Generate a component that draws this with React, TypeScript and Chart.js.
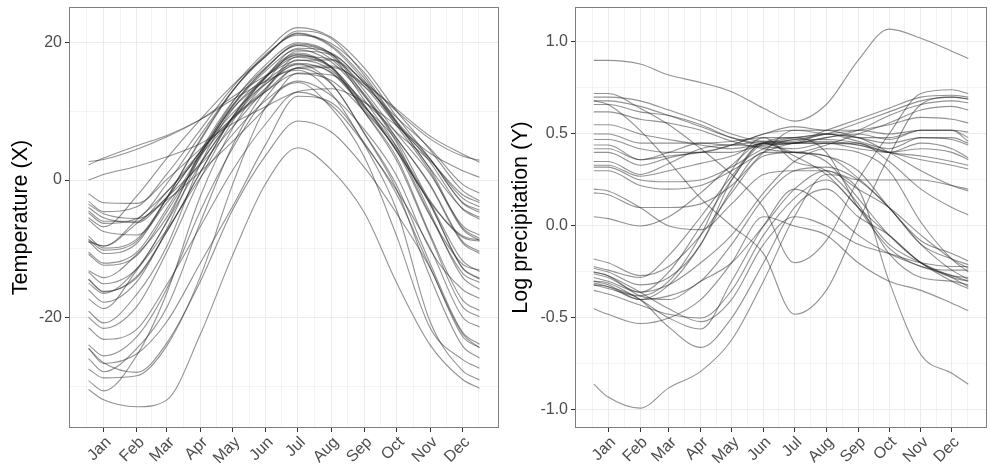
import React, { useEffect, useRef } from "react";
import { Chart, registerables } from "chart.js";

Chart.register(...registerables);

// ---- shared axis data ----
const days = [1, 15, 46, 74, 105, 135, 166, 196, 227, 258, 288, 319, 349, 365];
const monthLabels = ["Jan", "Feb", "Mar", "Apr", "May", "Jun", "Jul", "Aug", "Sep", "Oct", "Nov", "Dec"];
const monthTickDays = [15, 46, 74, 105, 135, 166, 196, 227, 258, 288, 319, 349];
const monthMinorDays = [-0.5, 30.5, 60, 89.5, 120, 150.5, 181, 211.5, 242.5, 273, 303.5, 334, 364];
const tempMajorTicks = [-20, 0, 20];
const tempMinorTicks = [-30, -10, 10];
const precMajorTicks = [-1, -0.5, 0, 0.5, 1];
const precMinorTicks = [-0.75, -0.25, 0.25, 0.75];

// ---- temperature (deg C) at the days above ----
const tempStJohns = [-3.5, -4.9, -5.6, -2.9, 1.2, 5.6, 10.5, 15.6, 15.3, 11.4, 6.9, 2.8, -2.1, -3.3];
const tempHalifax = [-4.5, -6.0, -6.0, -1.7, 3.6, 9.0, 14.3, 18.8, 18.3, 14.1, 8.5, 3.1, -3.2, -4.4];
const tempSydney = [-4.0, -5.5, -6.2, -2.5, 2.2, 7.7, 13.3, 18.0, 17.6, 13.6, 8.0, 3.0, -2.6, -3.9];
const tempYarmouth = [-2.0, -3.3, -3.4, 0.1, 4.5, 8.9, 12.9, 16.4, 16.6, 13.6, 9.1, 4.6, -0.6, -1.9];
const tempCharlottetown = [-5.8, -7.5, -8.0, -3.3, 2.5, 9.1, 15.0, 19.2, 18.5, 14.0, 8.3, 2.6, -4.2, -5.7];
const tempFredericton = [-8.2, -9.9, -8.6, -2.7, 4.2, 10.9, 16.2, 19.8, 18.4, 13.0, 6.8, 0.9, -6.6, -8.0];
const tempScheffervll = [-21.5, -23.2, -21.7, -15.2, -6.8, 1.4, 8.2, 12.8, 10.9, 5.2, -1.5, -9.9, -19.9, -21.4];
const tempArvida = [-14.5, -16.3, -14.0, -7.5, 1.1, 9.2, 15.2, 18.5, 16.5, 10.9, 4.2, -3.5, -12.8, -14.4];
const tempBagottville = [-14.4, -16.2, -14.2, -7.5, 1.1, 9.1, 15.0, 18.3, 16.4, 10.8, 4.2, -3.5, -12.7, -14.3];
const tempQuebec = [-10.8, -12.4, -11.0, -4.6, 3.3, 10.8, 16.3, 19.6, 17.6, 12.5, 6.1, -0.8, -9.1, -10.7];
const tempSherbrooke = [-10.5, -12.1, -10.5, -4.1, 3.7, 10.7, 15.9, 19.0, 17.2, 12.2, 6.0, -0.6, -8.9, -10.4];
const tempMontreal = [-8.6, -10.2, -8.9, -2.5, 5.7, 12.9, 18.0, 21.4, 19.6, 14.8, 8.3, 1.6, -6.9, -8.5];
const tempOttawa = [-8.9, -10.7, -9.2, -2.6, 5.9, 13.0, 18.1, 21.3, 19.4, 14.4, 7.9, 1.2, -7.1, -8.8];
const tempToronto = [-3.1, -4.6, -3.9, 0.9, 7.3, 13.5, 18.7, 22.2, 20.8, 16.3, 10.0, 4.4, -1.5, -3.0];
const tempLondon = [-4.8, -6.3, -5.6, -0.5, 6.5, 13.0, 18.3, 21.1, 19.9, 15.6, 9.2, 3.1, -3.3, -4.7];
const tempThunderBay = [-13.4, -15.1, -12.9, -6.1, 2.3, 8.8, 13.4, 17.5, 16.0, 10.7, 4.8, -3.3, -11.7, -13.3];
const tempWinnipeg = [-16.0, -17.8, -14.8, -7.1, 3.5, 11.3, 16.8, 20.0, 18.4, 12.3, 5.4, -4.7, -14.1, -15.9];
const tempThePas = [-20.0, -21.6, -18.4, -10.4, 0.2, 8.5, 14.9, 18.2, 16.5, 9.9, 2.8, -8.2, -18.4, -19.9];
const tempChurchill = [-24.5, -26.7, -25.3, -20.6, -12.1, -3.9, 5.2, 12.2, 11.3, 5.4, -2.1, -12.7, -22.3, -24.4];
const tempRegina = [-15.0, -16.5, -12.9, -6.0, 4.1, 11.4, 16.4, 19.6, 18.1, 11.6, 4.8, -5.1, -13.5, -14.9];
const tempPrAlbert = [-19.1, -20.8, -16.6, -9.6, 2.3, 10.3, 15.0, 17.9, 16.3, 9.9, 3.3, -7.9, -17.4, -19.0];
const tempUraniumCity = [-24.0, -25.6, -22.8, -15.8, -4.5, 4.6, 12.0, 16.3, 14.0, 6.8, -0.8, -12.1, -22.1, -23.9];
const tempEdmonton = [-13.2, -14.2, -10.8, -5.4, 3.7, 10.4, 14.5, 17.0, 15.6, 10.3, 4.2, -5.2, -12.2, -13.1];
const tempCalgary = [-9.0, -9.6, -6.3, -2.5, 4.1, 9.7, 14.0, 16.8, 15.7, 10.6, 5.7, -3.0, -8.3, -8.9];
const tempKamloops = [-5.5, -6.8, -2.3, 3.2, 8.8, 13.8, 18.0, 21.7, 20.6, 15.2, 8.5, 1.7, -4.1, -5.4];
const tempVancouver = [2.7, 3.0, 4.5, 6.3, 8.8, 12.1, 15.2, 17.4, 17.5, 14.3, 10.0, 6.0, 3.5, 2.9];
const tempVictoria = [2.2, 3.2, 5.0, 6.5, 8.8, 11.7, 14.4, 16.3, 16.4, 14.0, 10.3, 6.4, 3.8, 2.6];
const tempPrGeorge = [-8.8, -9.6, -5.8, -1.7, 4.1, 9.1, 12.9, 15.5, 14.5, 10.0, 4.5, -3.2, -8.1, -8.7];
const tempPrRupert = [0.0, 0.8, 2.0, 3.4, 5.3, 8.2, 10.7, 12.9, 13.3, 11.3, 7.9, 3.9, 1.4, 0.4];
const tempWhitehorse = [-17.3, -18.7, -13.1, -7.2, 0.3, 6.6, 11.6, 14.4, 12.3, 7.3, 0.6, -10.1, -15.9, -17.2];
const tempDawson = [-29.2, -30.7, -25.5, -16.4, -2.4, 7.5, 14.0, 16.0, 12.6, 5.1, -4.4, -20.6, -27.7, -29.1];
const tempYellowknife = [-26.0, -27.9, -24.5, -18.5, -6.2, 5.0, 13.1, 16.9, 14.1, 6.7, -1.4, -14.1, -24.1, -25.9];
const tempIqaluit = [-24.5, -26.6, -28.0, -23.7, -14.8, -4.4, 3.6, 8.6, 7.0, 1.8, -4.9, -12.8, -22.7, -24.4];
const tempInuvik = [-27.5, -28.8, -28.5, -24.1, -14.1, -0.7, 10.6, 14.2, 10.5, 3.3, -8.2, -21.5, -26.1, -27.4];
const tempResolute = [-30.5, -32.0, -33.0, -32.0, -22.5, -11.0, -0.5, 4.7, 1.5, -4.8, -15.0, -24.0, -29.0, -30.3];

// ---- log10 precipitation at the days above ----
const precStJohns = [0.70, 0.70, 0.68, 0.63, 0.57, 0.50, 0.46, 0.46, 0.52, 0.58, 0.64, 0.70, 0.71, 0.70];
const precHalifax = [0.66, 0.66, 0.62, 0.60, 0.55, 0.48, 0.44, 0.45, 0.48, 0.52, 0.60, 0.66, 0.68, 0.67];
const precSydney = [0.68, 0.68, 0.65, 0.60, 0.54, 0.48, 0.45, 0.47, 0.50, 0.56, 0.62, 0.68, 0.70, 0.69];
const precYarmouth = [0.62, 0.62, 0.58, 0.56, 0.52, 0.46, 0.42, 0.40, 0.44, 0.50, 0.56, 0.63, 0.65, 0.63];
const precCharlottetown = [0.55, 0.55, 0.50, 0.47, 0.44, 0.42, 0.45, 0.48, 0.50, 0.52, 0.55, 0.59, 0.58, 0.56];
const precFredericton = [0.50, 0.50, 0.45, 0.45, 0.45, 0.46, 0.48, 0.48, 0.50, 0.48, 0.48, 0.52, 0.52, 0.51];
const precScheffervll = [0.18, 0.17, 0.10, 0.10, 0.12, 0.22, 0.40, 0.52, 0.50, 0.48, 0.40, 0.30, 0.22, 0.19];
const precArvida = [0.30, 0.30, 0.22, 0.20, 0.22, 0.30, 0.40, 0.45, 0.46, 0.44, 0.40, 0.36, 0.33, 0.31];
const precBagottville = [0.32, 0.32, 0.25, 0.24, 0.25, 0.32, 0.42, 0.47, 0.47, 0.45, 0.40, 0.38, 0.35, 0.33];
const precQuebec = [0.47, 0.47, 0.42, 0.40, 0.40, 0.44, 0.50, 0.54, 0.52, 0.52, 0.50, 0.52, 0.52, 0.48];
const precSherbrooke = [0.42, 0.42, 0.36, 0.38, 0.40, 0.44, 0.50, 0.52, 0.52, 0.48, 0.45, 0.48, 0.47, 0.44];
const precMontreal = [0.40, 0.40, 0.33, 0.37, 0.40, 0.40, 0.44, 0.45, 0.50, 0.46, 0.42, 0.48, 0.48, 0.45];
const precOttawa = [0.33, 0.33, 0.27, 0.30, 0.34, 0.38, 0.45, 0.45, 0.45, 0.44, 0.40, 0.42, 0.40, 0.36];
const precToronto = [0.35, 0.35, 0.28, 0.34, 0.42, 0.44, 0.43, 0.42, 0.45, 0.42, 0.40, 0.45, 0.42, 0.37];
const precLondon = [0.44, 0.44, 0.36, 0.40, 0.45, 0.44, 0.46, 0.45, 0.48, 0.50, 0.47, 0.52, 0.52, 0.46];
const precThunderBay = [0.05, 0.04, 0.00, 0.05, 0.18, 0.33, 0.45, 0.45, 0.45, 0.45, 0.35, 0.20, 0.10, 0.06];
const precWinnipeg = [-0.22, -0.24, -0.28, -0.16, 0.05, 0.27, 0.45, 0.40, 0.38, 0.26, 0.10, -0.10, -0.18, -0.21];
const precThePas = [-0.18, -0.20, -0.27, -0.22, -0.05, 0.18, 0.38, 0.40, 0.38, 0.30, 0.10, -0.08, -0.15, -0.19];
const precChurchill = [-0.26, -0.28, -0.36, -0.32, -0.20, -0.05, 0.18, 0.35, 0.42, 0.40, 0.30, 0.02, -0.18, -0.25];
const precRegina = [-0.28, -0.30, -0.36, -0.25, 0.00, 0.25, 0.45, 0.38, 0.28, 0.10, -0.10, -0.20, -0.27, -0.28];
const precPrAlbert = [-0.30, -0.32, -0.40, -0.32, -0.10, 0.20, 0.40, 0.40, 0.35, 0.15, -0.05, -0.20, -0.28, -0.30];
const precUraniumCity = [-0.31, -0.33, -0.40, -0.38, -0.30, -0.10, 0.15, 0.30, 0.32, 0.25, 0.10, -0.10, -0.24, -0.29];
const precEdmonton = [-0.23, -0.25, -0.32, -0.28, -0.10, 0.25, 0.45, 0.48, 0.40, 0.10, -0.12, -0.22, -0.24, -0.24];
const precCalgary = [-0.32, -0.34, -0.38, -0.30, -0.05, 0.30, 0.48, 0.35, 0.30, 0.12, -0.15, -0.28, -0.30, -0.32];
const precKamloops = [-0.45, -0.48, -0.53, -0.50, -0.40, -0.20, 0.05, 0.00, -0.05, -0.20, -0.30, -0.35, -0.42, -0.46];
const precVancouver = [0.72, 0.72, 0.64, 0.55, 0.42, 0.28, 0.10, -0.20, -0.08, 0.25, 0.50, 0.72, 0.74, 0.72];
const precVictoria = [0.68, 0.66, 0.52, 0.35, 0.15, 0.00, -0.15, -0.48, -0.35, 0.02, 0.38, 0.66, 0.70, 0.69];
const precPrGeorge = [0.20, 0.19, 0.10, 0.00, -0.02, 0.12, 0.28, 0.30, 0.30, 0.25, 0.25, 0.25, 0.22, 0.20];
const precPrRupert = [0.90, 0.90, 0.88, 0.82, 0.78, 0.73, 0.64, 0.57, 0.66, 0.90, 1.07, 1.02, 0.95, 0.91];
const precWhitehorse = [-0.25, -0.27, -0.36, -0.45, -0.52, -0.40, -0.10, 0.05, 0.00, -0.10, -0.15, -0.20, -0.22, -0.22];
const precDawson = [-0.30, -0.31, -0.40, -0.50, -0.56, -0.30, 0.00, 0.20, 0.10, -0.05, -0.15, -0.22, -0.27, -0.30];
const precYellowknife = [-0.35, -0.37, -0.43, -0.48, -0.50, -0.35, -0.05, 0.15, 0.25, 0.10, -0.05, -0.20, -0.30, -0.34];
const precIqaluit = [-0.25, -0.27, -0.38, -0.40, -0.30, -0.20, 0.00, 0.20, 0.30, 0.20, 0.10, -0.05, -0.18, -0.23];
const precInuvik = [-0.32, -0.33, -0.40, -0.55, -0.66, -0.50, -0.20, 0.10, 0.20, 0.05, -0.05, -0.20, -0.28, -0.33];
const precResolute = [-0.86, -0.93, -0.99, -0.88, -0.79, -0.62, -0.30, 0.05, 0.28, 0.20, -0.30, -0.70, -0.80, -0.86];

const temperatureSeries = [
  tempStJohns, tempHalifax, tempSydney, tempYarmouth, tempCharlottetown, tempFredericton,
  tempScheffervll, tempArvida, tempBagottville, tempQuebec, tempSherbrooke, tempMontreal,
  tempOttawa, tempToronto, tempLondon, tempThunderBay, tempWinnipeg, tempThePas, tempChurchill,
  tempRegina, tempPrAlbert, tempUraniumCity, tempEdmonton, tempCalgary, tempKamloops,
  tempVancouver, tempVictoria, tempPrGeorge, tempPrRupert, tempWhitehorse, tempDawson,
  tempYellowknife, tempIqaluit, tempInuvik, tempResolute,
];
const precipitationSeries = [
  precStJohns, precHalifax, precSydney, precYarmouth, precCharlottetown, precFredericton,
  precScheffervll, precArvida, precBagottville, precQuebec, precSherbrooke, precMontreal,
  precOttawa, precToronto, precLondon, precThunderBay, precWinnipeg, precThePas, precChurchill,
  precRegina, precPrAlbert, precUraniumCity, precEdmonton, precCalgary, precKamloops,
  precVancouver, precVictoria, precPrGeorge, precPrRupert, precWhitehorse, precDawson,
  precYellowknife, precIqaluit, precInuvik, precResolute,
];

const FONT = "'Liberation Sans', Arial, Helvetica, sans-serif";
const LINE_COLOR = "rgba(40,40,40,0.5)";

const panelBorder = {
  id: "panelBorder",
  afterDatasetsDraw(chart: any) {
    const { ctx, chartArea } = chart;
    ctx.save();
    ctx.strokeStyle = "#7f7f7f";
    ctx.lineWidth = 1;
    ctx.strokeRect(
      Math.round(chartArea.left) + 0.5,
      Math.round(chartArea.top) + 0.5,
      Math.round(chartArea.right - chartArea.left) - 1,
      Math.round(chartArea.bottom - chartArea.top) - 1
    );
    ctx.restore();
  },
};

function makeConfig(
  series: number[][],
  yMin: number,
  yMax: number,
  yMajor: number[],
  yMinor: number[],
  yFmt: (v: number) => string,
  title: string,
  axisWidth: number,
  padRight: number
): any {
  const datasets = series.map((s) => ({
    data: days.map((d, i) => ({ x: d, y: s[i] })),
    borderColor: LINE_COLOR,
    borderWidth: 1.1,
    pointRadius: 0,
    fill: false,
    cubicInterpolationMode: "monotone",
  }));
  const isMajorX = (v: number) => monthTickDays.indexOf(v) >= 0;
  const isMajorY = (v: number) => yMajor.some((m) => Math.abs(m - v) < 1e-9);
  const zeroPad = (scale: any) => {
    scale.paddingTop = 0;
    scale.paddingBottom = 0;
    scale.paddingLeft = 0;
    scale.paddingRight = 0;
  };
  return {
    type: "line",
    data: { datasets },
    options: {
      animation: false,
      responsive: false,
      maintainAspectRatio: false,
      events: [],
      layout: { padding: { top: 7, right: padRight, left: 0, bottom: 0 } },
      plugins: { legend: { display: false }, tooltip: { enabled: false } },
      scales: {
        x: {
          type: "linear",
          min: -17.2,
          max: 383.2,
          afterBuildTicks: (scale: any) => {
            const vals = [...monthMinorDays, ...monthTickDays].sort((a, b) => a - b);
            scale.ticks = vals.map((v) => ({ value: v }));
          },
          afterFit: (scale: any) => {
            scale.height = 38;
            zeroPad(scale);
          },
          border: { display: false },
          grid: {
            color: "#EBEBEB",
            lineWidth: (ctx: any) => (ctx.tick && isMajorX(ctx.tick.value) ? 1 : 0.6),
            tickLength: 4,
            tickColor: (ctx: any) => (ctx.tick && isMajorX(ctx.tick.value) ? "#333333" : "rgba(0,0,0,0)"),
            tickWidth: 1,
          },
          ticks: {
            autoSkip: false,
            minRotation: 45,
            maxRotation: 45,
            padding: 1,
            labelOffset: 5,
            color: "#4D4D4D",
            font: { family: FONT, size: 16 },
            callback: (v: number) => {
              const idx = monthTickDays.indexOf(v);
              return idx >= 0 ? monthLabels[idx] : "";
            },
          },
        },
        y: {
          type: "linear",
          min: yMin,
          max: yMax,
          afterBuildTicks: (scale: any) => {
            const vals = [...yMinor, ...yMajor].sort((a, b) => a - b);
            scale.ticks = vals.map((v) => ({ value: v }));
          },
          afterFit: (scale: any) => {
            scale.width = axisWidth;
            zeroPad(scale);
          },
          border: { display: false },
          grid: {
            color: "#EBEBEB",
            lineWidth: (ctx: any) => (ctx.tick && isMajorY(ctx.tick.value) ? 1 : 0.6),
            tickLength: 4,
            tickColor: (ctx: any) => (ctx.tick && isMajorY(ctx.tick.value) ? "#333333" : "rgba(0,0,0,0)"),
            tickWidth: 1,
          },
          ticks: {
            autoSkip: false,
            padding: 3,
            color: "#4D4D4D",
            font: { family: FONT, size: 16 },
            callback: (v: number) => (isMajorY(v) ? yFmt(v) : ""),
          },
          title: {
            display: true,
            text: title,
            color: "#000000",
            font: { family: FONT, size: 21.5 },
            padding: { top: 8, bottom: 0 },
          },
        },
      },
    },
    plugins: [panelBorder],
  };
}

function Panel(props: { cfg: () => any; left: number; width: number }) {
  const ref = useRef<HTMLCanvasElement | null>(null);
  useEffect(() => {
    if (!ref.current) return;
    const chart = new Chart(ref.current, props.cfg());
    return () => chart.destroy();
  }, []);
  return (
    <canvas
      ref={ref}
      width={props.width}
      height={466}
      style={{ position: "absolute", left: props.left, top: 0, width: props.width, height: 466 }}
    />
  );
}

export default function App() {
  return (
    <div style={{ position: "absolute", left: 0, top: 0, width: 990, height: 466, background: "#fff" }}>
      <Panel
        left={0}
        width={505}
        cfg={() =>
          makeConfig(temperatureSeries, -36.1, 25.2, tempMajorTicks, tempMinorTicks, (v) => String(v), "Temperature (X)", 69, 6)
        }
      />
      <Panel
        left={500}
        width={490}
        cfg={() =>
          makeConfig(precipitationSeries, -1.098, 1.19, precMajorTicks, precMinorTicks, (v) => v.toFixed(1), "Log precipitation (Y)", 75, 3)
        }
      />
    </div>
  );
}
